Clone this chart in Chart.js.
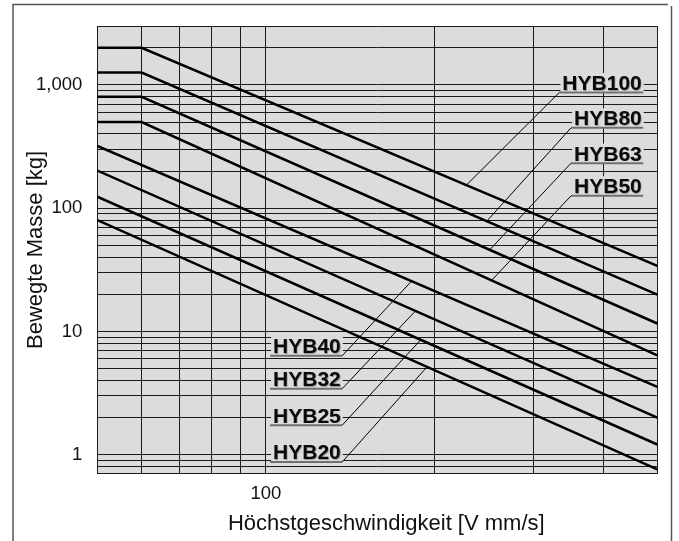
<!DOCTYPE html>
<html>
<head>
<meta charset="utf-8">
<script src="https://cdn.jsdelivr.net/npm/chart.js@4.4.1/dist/chart.umd.min.js"></script>
<style>
  html, body { margin: 0; padding: 0; background: #fff; }
  canvas { display: block; }
</style>
</head>
<body>
<canvas id="chart" width="679" height="541"></canvas>
<script>
// Höchstgeschwindigkeit [mm/s] gegen bewegte Masse [kg], beide Achsen logarithmisch
const speedWithLimit = [50, 60, 500];   // HYB50..HYB100: waagrechter Anfang bis 60 mm/s
const speedPlain = [50, 500];           // HYB20..HYB40

const massHYB100 = [2000, 2000, 34];
const massHYB80 = [1260, 1260, 19.9];
const massHYB63 = [800, 800, 11.6];
const massHYB50 = [500, 500, 6.4];
const massHYB40 = [320, 3.55];
const massHYB32 = [202, 2.0];
const massHYB25 = [124, 1.21];
const massHYB20 = [80, 0.76];

const xTicks = [50, 60, 70, 80, 90, 100, 200, 300, 400, 500];
const yTicks = [0.7, 0.8, 0.9, 1, 2, 3, 4, 5, 6, 7, 8, 9,
  10, 20, 30, 40, 50, 60, 70, 80, 90,
  100, 200, 300, 400, 500, 600, 700, 800, 900,
  1000, 2000, 3000];
const xTickLabels = { 100: "100" };
const yTickLabels = { 1: "1", 10: "10", 100: "100", 1000: "1,000" };

// Beschriftungen: Name, Seite, Textposition (mm/s, kg), Punkt auf der Kennlinie (mm/s)
const labelNames = ["HYB100", "HYB80", "HYB63", "HYB50", "HYB40", "HYB32", "HYB25", "HYB20"];
const labelSide = ["right", "right", "right", "right", "left", "left", "left", "left"];
const labelSpeed = [469, 469, 469, 469, 103, 103, 103, 103];
const labelMass = [910, 470, 243, 132, 6.65, 3.6, 1.82, 0.915];
const anchorSpeed = [228, 248, 251, 253, 182, 185, 189, 194];

const xTitle = "Höchstgeschwindigkeit [V mm/s]";
const yTitle = "Bewegte Masse [kg]";

const BG = "#dcdcdc";
const FONT = "'Liberation Sans', Arial, Helvetica, sans-serif";
Chart.defaults.font.family = FONT;
Chart.defaults.color = "#111";

function pts(xs, ys) {
  return xs.map((v, i) => ({ x: v, y: ys[i] }));
}

function line(ctx, x0, y0, x1, y1) {
  ctx.beginPath();
  ctx.moveTo(x0, y0);
  ctx.lineTo(x1, y1);
  ctx.stroke();
}

const plotBackground = {
  id: "plotBackground",
  beforeDraw(chart) {
    const { ctx, chartArea: a, width, height } = chart;
    ctx.save();
    ctx.fillStyle = "#fff";
    ctx.fillRect(0, 0, width, height);
    ctx.fillStyle = BG;
    ctx.fillRect(a.left, a.top, a.right - a.left, a.bottom - a.top);
    // Rahmen um das Diagramm
    ctx.strokeStyle = "#555";
    ctx.lineWidth = 1.5;
    ctx.beginPath();
    ctx.moveTo(13, height);
    ctx.lineTo(13, 4.5);
    ctx.lineTo(668, 4.5);
    ctx.moveTo(671.5, 6);
    ctx.lineTo(671.5, height);
    ctx.stroke();
    ctx.restore();
  },
  afterDraw(chart) {
    // x-Achsentitel, leicht rechts der Mitte wie im Original
    const { ctx, chartArea: a } = chart;
    ctx.save();
    ctx.font = "22px " + FONT;
    ctx.fillStyle = "#111";
    ctx.textAlign = "center";
    ctx.textBaseline = "middle";
    ctx.fillText(xTitle, (a.left + a.right) / 2 + 9, a.bottom + 50.5);
    ctx.restore();
  }
};

const callouts = {
  id: "callouts",
  afterDatasetsDraw(chart) {
    const { ctx, scales: { x, y } } = chart;
    ctx.save();
    ctx.font = "bold 21px " + FONT;
    ctx.textBaseline = "alphabetic";
    labelNames.forEach((name, i) => {
      const left = labelSide[i] === "left";
      const w = ctx.measureText(name).width;
      const tx = x.getPixelForValue(labelSpeed[i]);
      const base = y.getPixelForValue(labelMass[i]);
      const x0 = left ? tx : tx - w;
      const x1 = x0 + w;

      ctx.fillStyle = BG;
      ctx.fillRect(x0 - 2, base - 17, w + 4, 19);
      ctx.save();
      ctx.shadowColor = "rgba(0,0,0,0.3)";
      ctx.shadowOffsetX = 0.8;
      ctx.shadowOffsetY = 0.8;
      ctx.shadowBlur = 0.6;
      ctx.fillStyle = "#0a0a0a";
      ctx.fillText(name, x0, base);
      ctx.restore();

      const uy = base + 2.5;
      const u0 = x0 - 3, u1 = x1 + 1.5;
      ctx.strokeStyle = "#707070";
      ctx.lineWidth = 2;
      line(ctx, u0, uy, u1, uy);

      // Hinweislinie bis zur Kennlinie
      const ds = chart.getDatasetMeta(chart.data.datasets.findIndex(d => d.label === name)).data;
      const ax = x.getPixelForValue(anchorSpeed[i]);
      let ay = ds[ds.length - 1].y;
      for (let k = 1; k < ds.length; k++) {
        if (ax <= ds[k].x) {
          const p = ds[k - 1], q = ds[k];
          ay = p.y + (q.y - p.y) * (ax - p.x) / (q.x - p.x);
          break;
        }
      }
      ctx.strokeStyle = "#000";
      ctx.lineWidth = 1;
      line(ctx, left ? u1 : u0, uy, ax, ay);
    });
    ctx.restore();
  }
};

const seriesStyle = { borderColor: "#000", borderWidth: 2.5, pointRadius: 0, tension: 0, fill: false };

new Chart(document.getElementById("chart"), {
  type: "line",
  data: {
    datasets: [
      { label: "HYB100", data: pts(speedWithLimit, massHYB100), ...seriesStyle },
      { label: "HYB80", data: pts(speedWithLimit, massHYB80), ...seriesStyle },
      { label: "HYB63", data: pts(speedWithLimit, massHYB63), ...seriesStyle },
      { label: "HYB50", data: pts(speedWithLimit, massHYB50), ...seriesStyle },
      { label: "HYB40", data: pts(speedPlain, massHYB40), ...seriesStyle },
      { label: "HYB32", data: pts(speedPlain, massHYB32), ...seriesStyle },
      { label: "HYB25", data: pts(speedPlain, massHYB25), ...seriesStyle },
      { label: "HYB20", data: pts(speedPlain, massHYB20), ...seriesStyle }
    ]
  },
  options: {
    responsive: false,
    animation: false,
    devicePixelRatio: 1,
    layout: { padding: { top: 20.6, right: 21.7, bottom: 0, left: 0 } },
    plugins: { legend: { display: false }, tooltip: { enabled: false } },
    scales: {
      x: {
        type: "logarithmic",
        min: 50,
        max: 500,
        afterBuildTicks: s => { s.ticks = xTicks.map(v => ({ value: v })); },
        afterFit: s => { s.height = 67.2; },
        ticks: {
          autoSkip: false, maxRotation: 0, padding: 9,
          font: { size: 18.5 },
          callback: v => xTickLabels[v] ?? ""
        },
        grid: { color: "#1a1a1a", lineWidth: 1, drawTicks: false },
        border: { color: "#1a1a1a", width: 1 },
        title: { display: false }
      },
      y: {
        type: "logarithmic",
        min: 0.7,
        max: 3000,
        afterBuildTicks: s => { s.ticks = yTicks.map(v => ({ value: v })); },
        afterFit: s => { s.width = 97.3; },
        ticks: {
          autoSkip: false, padding: 15,
          font: { size: 18.5 },
          callback: v => yTickLabels[v] ?? ""
        },
        grid: { color: "#1a1a1a", lineWidth: 1, drawTicks: false },
        border: { color: "#1a1a1a", width: 1 },
        title: {
          display: true, text: yTitle,
          font: { size: 22 }, padding: { top: 22.8, bottom: 0 }
        }
      }
    }
  },
  plugins: [plotBackground, callouts]
});
</script>
</body>
</html>
